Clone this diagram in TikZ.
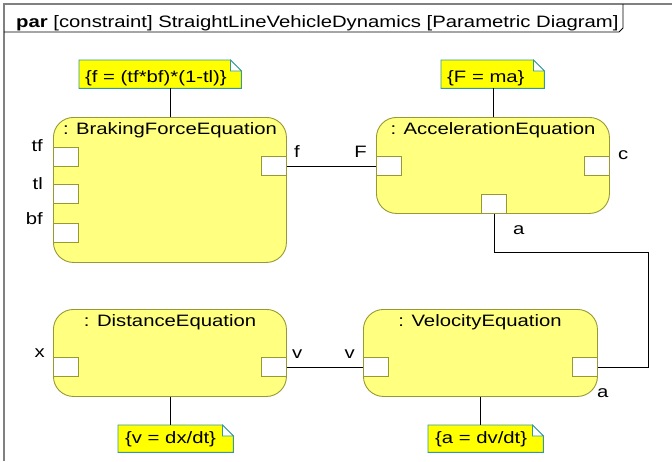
\documentclass[tikz,border=0pt]{standalone}
\usepackage{fontspec}
\setmainfont[FakeStretch=1.23]{Liberation Sans}
\definecolor{blockfill}{RGB}{255,255,128}
\definecolor{blockline}{RGB}{153,153,51}
\definecolor{notefill}{RGB}{255,255,0}
\definecolor{noteline}{RGB}{51,153,153}
\definecolor{frameline}{RGB}{128,128,128}
\begin{document}
\begin{tikzpicture}[x=1pt,y=-1pt,
  font=\fontsize{16.5}{19}\selectfont,
  block/.style={draw=blockline, fill=blockfill, line width=0.9pt,
    rounded corners=20pt, inner sep=0pt, anchor=north west},
  port/.style={draw=blockline, fill=white, line width=0.9pt, inner sep=0pt,
    minimum width=25pt, minimum height=19pt, anchor=north west},
  notebg/.style={inner sep=0pt, anchor=north west},
  notebox/.style={draw=noteline, fill=notefill, line width=0.9pt},
  notefold/.style={draw=noteline, fill=white, line width=0.7pt},
  wire/.style={draw=black, line width=0.8pt},
  framestyle/.style={draw=frameline, line width=1.2pt},
  headstyle/.style={draw=black, line width=0.8pt},
  txt/.style={inner sep=0pt, anchor=base west},
  txtr/.style={inner sep=0pt, anchor=base east},
  ttl/.style={inner sep=0pt, anchor=base}]
\useasboundingbox (0,0) rectangle (672,461);

% diagram frame and its name tab
\draw[framestyle] (4,461) -- (4,4) -- (672,4);
\draw[headstyle] (4,32) -- (619,32) -- (623,28) -- (623,4);
\node[txt] (hdr) at (16,27) {\textbf{par} [constraint] StraightLineVehicleDynamics [Parametric Diagram]};

% constraint blocks
\node[block, minimum width=233pt, minimum height=145pt] (B) at (53,117) {};
\node[block, minimum width=233pt, minimum height=96pt]  (A) at (376,117) {};
\node[block, minimum width=233pt, minimum height=87pt]  (D) at (53,309) {};
\node[block, minimum width=234pt, minimum height=87pt]  (V) at (363,309) {};

\node[ttl] (Bt) at (170,134) {: BrakingForceEquation};
\node[ttl] (At) at (493,134) {: AccelerationEquation};
\node[ttl] (Dt) at (170,326) {: DistanceEquation};
\node[ttl] (Vt) at (480,326) {: VelocityEquation};

% parameter ports
\node[port] (Btf) at (53,147) {};
\node[port] (Btl) at (53,184) {};
\node[port] (Bbf) at (53,223) {};
\node[port] (Bf)  at (261,156) {};
\node[port] (AF)  at (376,156) {};
\node[port] (Ac)  at (584,156) {};
\node[port] (Aa)  at (481,194) {};
\node[port] (Dx)  at (53,357) {};
\node[port] (Dv)  at (261,357) {};
\node[port] (Vv)  at (363,357) {};
\node[port] (Va)  at (572,357) {};

% port labels
\node[txtr] (Ltf) at (43,151) {tf};
\node[txtr] (Ltl) at (43,189) {tl};
\node[txtr] (Lbf) at (43,224) {bf};
\node[txt]  (Lf)  at (294,157) {f};
\node[txtr] (LF)  at (367,157) {F};
\node[txt]  (Lc)  at (618,159) {c};
\node[txt]  (LAa) at (513,234) {a};
\node[txtr] (Lx)  at (45,357) {x};
\node[txt]  (LDv) at (292,358) {v};
\node[txtr] (LVv) at (355,358) {v};
\node[txt]  (LVa) at (597,397) {a};

% constraint notes
\node[notebg, minimum width=162pt, minimum height=28pt] (n1) at (79,60) {};
\node[notebg, minimum width=103pt, minimum height=28pt] (n2) at (441,60) {};
\node[notebg, minimum width=115pt, minimum height=27pt] (n3) at (118,425) {};
\node[notebg, minimum width=115pt, minimum height=27pt] (n4) at (428,425) {};
\foreach \n in {n1,n2,n3,n4} {
  \path[notebox] (\n.north west) -- ([xshift=-11pt]\n.north east)
    -- ([yshift=-11pt]\n.north east) -- (\n.south east) -- (\n.south west) -- cycle;
  \path[notefold] ([xshift=-11pt]\n.north east)
    -- ([xshift=-11pt,yshift=-11pt]\n.north east) -- ([yshift=-11pt]\n.north east) -- cycle;
}
\node[txt] (n1t) at (85,82)  {\{f = (tf*bf)*(1-tl)\}};
\node[txt] (n2t) at (447,82) {\{F = ma\}};
\node[txt] (n3t) at (125,443) {\{v = dx/dt\}};
\node[txt] (n4t) at (435,443) {\{a = dv/dt\}};

% note anchors
\draw[wire] (n1.south -| B.north) -- (B.north);
\draw[wire] (n2.south -| A.north) -- (A.north);
\draw[wire] (D.south) -- (D.south |- n3.north);
\draw[wire] (V.south) -- (V.south |- n4.north);

% binding connectors
\coordinate (k) at (648,252);
\draw[wire] (Bf.east) -- (AF.west);
\draw[wire] (Dv.east) -- (Vv.west);
\draw[wire] (Aa.south) |- (k) |- (Va.east);
\end{tikzpicture}
\end{document}
